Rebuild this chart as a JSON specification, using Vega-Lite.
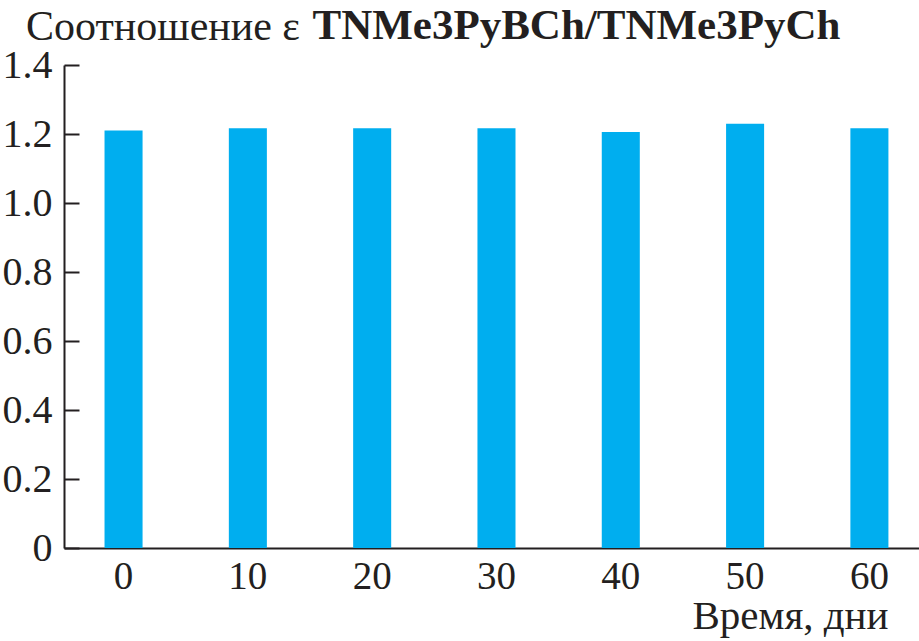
{
  "$schema": "https://vega.github.io/schema/vega-lite/v6.json",
  "autosize": {"type": "none"},
  "width": 855,
  "height": 483,
  "padding": {"left": 64, "top": 65, "right": 0, "bottom": 93},
  "background": "white",
  "config": {
    "view": {"stroke": null},
    "axis": {"domainColor": "#231f20", "domainWidth": 2, "grid": false, "labelFont": "Liberation Serif", "labelColor": "#231f20", "titleFont": "Liberation Serif", "titleColor": "#231f20"}
  },
  "title": {
    "text": "Соотношение ε",
    "anchor": "start",
    "frame": "group",
    "dx": -38,
    "dy": 78,
    "offset": 0,
    "baseline": "alphabetic",
    "font": "Liberation Serif",
    "fontSize": 42,
    "fontWeight": "normal",
    "color": "#231f20"
  },
  "data": {
    "values": [
      {"day": 0, "ratio": 1.21},
      {"day": 10, "ratio": 1.217},
      {"day": 20, "ratio": 1.217},
      {"day": 30, "ratio": 1.217},
      {"day": 40, "ratio": 1.206},
      {"day": 50, "ratio": 1.23},
      {"day": 60, "ratio": 1.217}
    ]
  },
  "mark": {"type": "bar", "color": "#00aeef"},
  "encoding": {
    "x": {
      "field": "day",
      "type": "ordinal",
      "scale": {"paddingInner": 0.694, "paddingOuter": 0.286, "align": 0.57},
      "axis": {
        "labelAngle": 0,
        "ticks": false,
        "labelFontSize": 39,
        "labelBaseline": "alphabetic",
        "labelPadding": 40,
        "title": "Время, дни",
        "titleFontSize": 41,
        "titleFontWeight": "normal",
        "titleAlign": "right",
        "titleBaseline": "alphabetic",
        "titleX": 824,
        "titleY": 80
      }
    },
    "y": {
      "field": "ratio",
      "type": "quantitative",
      "scale": {"domain": [0, 1.4], "nice": false},
      "axis": {
        "values": [0, 0.2, 0.4, 0.6, 0.8, 1.0, 1.2, 1.4],
        "labelExpr": "datum.value == 0 ? '0' : format(datum.value, '.1f')",
        "tickSize": -15,
        "tickWidth": 2,
        "tickColor": "#231f20",
        "labelFontSize": 40,
        "labelPadding": 27,
        "title": "TNMe3PyBCh/TNMe3PyCh",
        "titleAngle": 0,
        "titleFontSize": 43,
        "titleFontWeight": "bold",
        "titleAlign": "left",
        "titleBaseline": "alphabetic",
        "titleX": 248,
        "titleY": -27
      }
    }
  }
}
